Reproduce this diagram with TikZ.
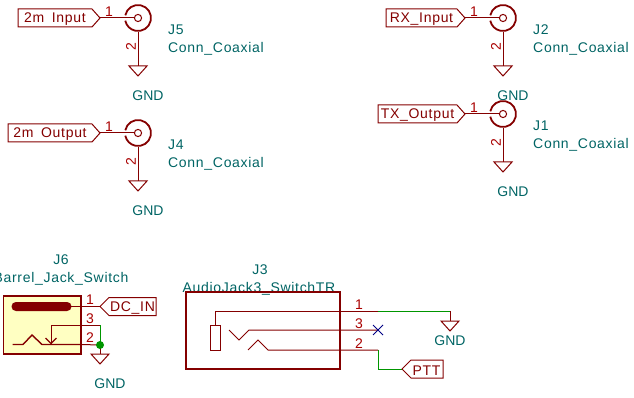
\documentclass[tikz,border=0pt]{standalone}
\usepackage{fontspec}
\setmainfont{Liberation Sans}
\newfontfamily\kfont[LetterSpace=5]{Liberation Sans}
\definecolor{kred}{HTML}{840000}
\definecolor{knum}{HTML}{A90000}
\definecolor{kteal}{HTML}{006464}
\definecolor{kgreen}{HTML}{009600}
\definecolor{kyel}{HTML}{FFFFC2}
\definecolor{kblue}{HTML}{000084}
\tikzset{
  txt/.style={inner sep=0pt,yshift=-1.5pt,text=kteal,font=\kfont\fontsize{14}{14}\selectfont},
  gndtxt/.style={inner sep=0pt,yshift=-1pt,text=kteal,font=\fontsize{14}{14}\selectfont},
  lab/.style={inner sep=0pt,yshift=-1.5pt,text=kred,font=\kfont\fontsize{14}{14}\selectfont},
  num/.style={inner sep=0pt,text=knum,font=\fontsize{14}{14}\selectfont},
  pinl/.style={draw=kred,line width=1pt},
  body/.style={draw=kred,line width=1.8pt},
  thin body/.style={draw=kred,line width=1pt},
  wire/.style={draw=kgreen,line width=1pt},
  sym/.style={draw=kred,line width=1pt,line join=miter},
}
% ground symbol: #1 name prefix, (#2,#3) top centre
\newcommand{\gndsym}[3]{%
  \coordinate (#1t) at (#2,#3);
  \draw[sym] (#2-9,#3) -- (#2+9,#3) -- (#2,#3+10) -- cycle;
}
% coaxial connector: #1 name, (#2,#3) centre, #4 label tip x, #5 label left x, #6 label text, #7 ref
\newcommand{\coaxsym}[7]{%
  \coordinate (#1c) at (#2,#3);
  \coordinate (#1in) at (#2-4,#3);
  \coordinate (#1bot) at (#2,#3+14);
  \coordinate (#1tip) at (#4,#3);
  \draw[draw=kred,line width=1pt] (#1c) circle[radius=3.6];
  \draw[draw=kred,line width=1.8pt] ({#2+13*cos(168)},{#3-13*sin(168)}) arc[start angle=168,end angle=-168,x radius=13,y radius=-13];
  \draw[pinl] (#1tip) -- (#1in);
  \node[num] (#1n1) at (#4+9,#3-6) {1};
  \coordinate (#1gt) at (#2,#3+48);
  \draw[pinl] (#1bot) -- (#1gt);
  \node[num,rotate=90] (#1n2) at (#2-7,#3+29) {2};
  \gndsym{#1g}{#2}{#3+48}
  \node[gndtxt] (#1gnd) at (#2+10,#3+77) {GND};
  \node[txt,anchor=west] (#1ref) at (#2+30,#3+10) {#7};
  \node[txt,anchor=west] (#1val) at (#2+30,#3+29) {Conn\_Coaxial};
  \draw[draw=kred,line width=1pt,line join=miter] (#1tip) -- (#4-8,#3-9) -- (#5,#3-9) -- (#5,#3+9) -- (#4-8,#3+9) -- cycle;
  \node[lab] (#1lab) at ({(#5+#4-8)/2},#3) {#6};
}
\begin{document}
\begin{tikzpicture}[x=1pt,y=-1pt]
\useasboundingbox (0,0) rectangle (634,398);
\coaxsym{jf}{138}{18}{100}{18}{2m\hspace{3pt} Input}{J5}
\coaxsym{jd}{138}{133}{100}{8}{2m\hspace{3pt} Output}{J4}
\coaxsym{jb}{503}{18}{465}{386}{RX\_Input}{J2}
\coaxsym{ja}{503}{114}{465}{378}{TX\_Output}{J1}

% J6 barrel jack
\node[txt] (j6ref) at (61,258) {J6};
\node[txt] (j6val) at (61,277) {Barrel\_Jack\_Switch};
\draw[body,fill=kyel,line join=miter] (3.5,296) rectangle (81,354);
\fill[kred,rounded corners=4.4pt] (11.5,302) rectangle (71.5,311);
\coordinate (j6a) at (71,306.5);
\coordinate (j6b) at (100,306.5);
\draw[pinl] (j6a) -- (j6b);
\draw[draw=kred,line width=1pt,line join=miter] (j6b) -- (109,297.5) -- (156,297.5) -- (156,315.5) -- (109,315.5) -- cycle;
\node[lab] (dcin) at (132.5,306.5) {DC\_IN};
\coordinate (j6sw) at (51,325);
\coordinate (j6swtip) at (51,343.5);
\coordinate (j63) at (100,325);
\coordinate (j62) at (100,345);
\draw[pinl] (j6swtip) -- (j6sw) -- (j63);
\draw[draw=kred,line width=1.4pt] (45.5,338) -- (j6swtip) -- (56.5,338);
\draw[draw=kred,line width=1.4pt] (12.5,344.5) -- (23,344.5) -- (32,335) -- (42,344.5) -- (81,344.5);
\draw[pinl] (81,344.5) -- (j62);
\draw[wire] (j63) -- (j62);
\coordinate (j6g) at (100,354);
\draw[pinl] (j62) -- (j6g);
\gndsym{j6gs}{100}{354}
\fill[kgreen] (j62) circle[radius=4];
\node[gndtxt] (j6gnd) at (110,383) {GND};
\node[num] (j6n1) at (90,299.5) {1};
\node[num] (j6n3) at (90,318.5) {3};
\node[num] (j6n2) at (90,337.5) {2};

% J3 audio jack
\node[txt] (j3ref) at (260,268) {J3};
\node[txt] (j3val) at (259,287) {AudioJack3\_SwitchTR};
\draw[body,line join=miter] (186,292) rectangle (340,369);
\coordinate (j3ap) at (215,325);
\coordinate (j3p1) at (378,311);
\coordinate (j3g) at (450,311);
\coordinate (j3gb) at (450,321);
\draw[pinl] (j3ap) -- (215,311) -- (j3p1);
\draw[wire] (j3p1) -- (j3g);
\draw[pinl] (j3g) -- (j3gb);
\draw[thin body] (210,325) rectangle (220,350);
\coordinate (j3p3) at (378,330);
\draw[pinl] (229,330) -- (239,340) -- (249,330) -- (j3p3);
\coordinate (j3p2) at (378,350);
\coordinate (j3ptt) at (402,369);
\draw[pinl] (248,350) -- (258,340) -- (268,350) -- (j3p2);
\draw[wire] (j3p2) -- (378,369) -- (j3ptt);
\draw[draw=kblue,line width=1pt] (373,325) -- (383,335) (373,335) -- (383,325);
\gndsym{j3gs}{450}{321}
\node[gndtxt] (j3gnd) at (450,340) {GND};
\draw[draw=kred,line width=1pt,line join=miter] (j3ptt) -- (411,360) -- (443,360) -- (443,378) -- (411,378) -- cycle;
\node[lab] (ptt) at (426.5,369) {PTT};
\node[num] (j3n1) at (359,305) {1};
\node[num] (j3n3) at (359,324) {3};
\node[num] (j3n2) at (359,343.5) {2};
\end{tikzpicture}
\end{document}
